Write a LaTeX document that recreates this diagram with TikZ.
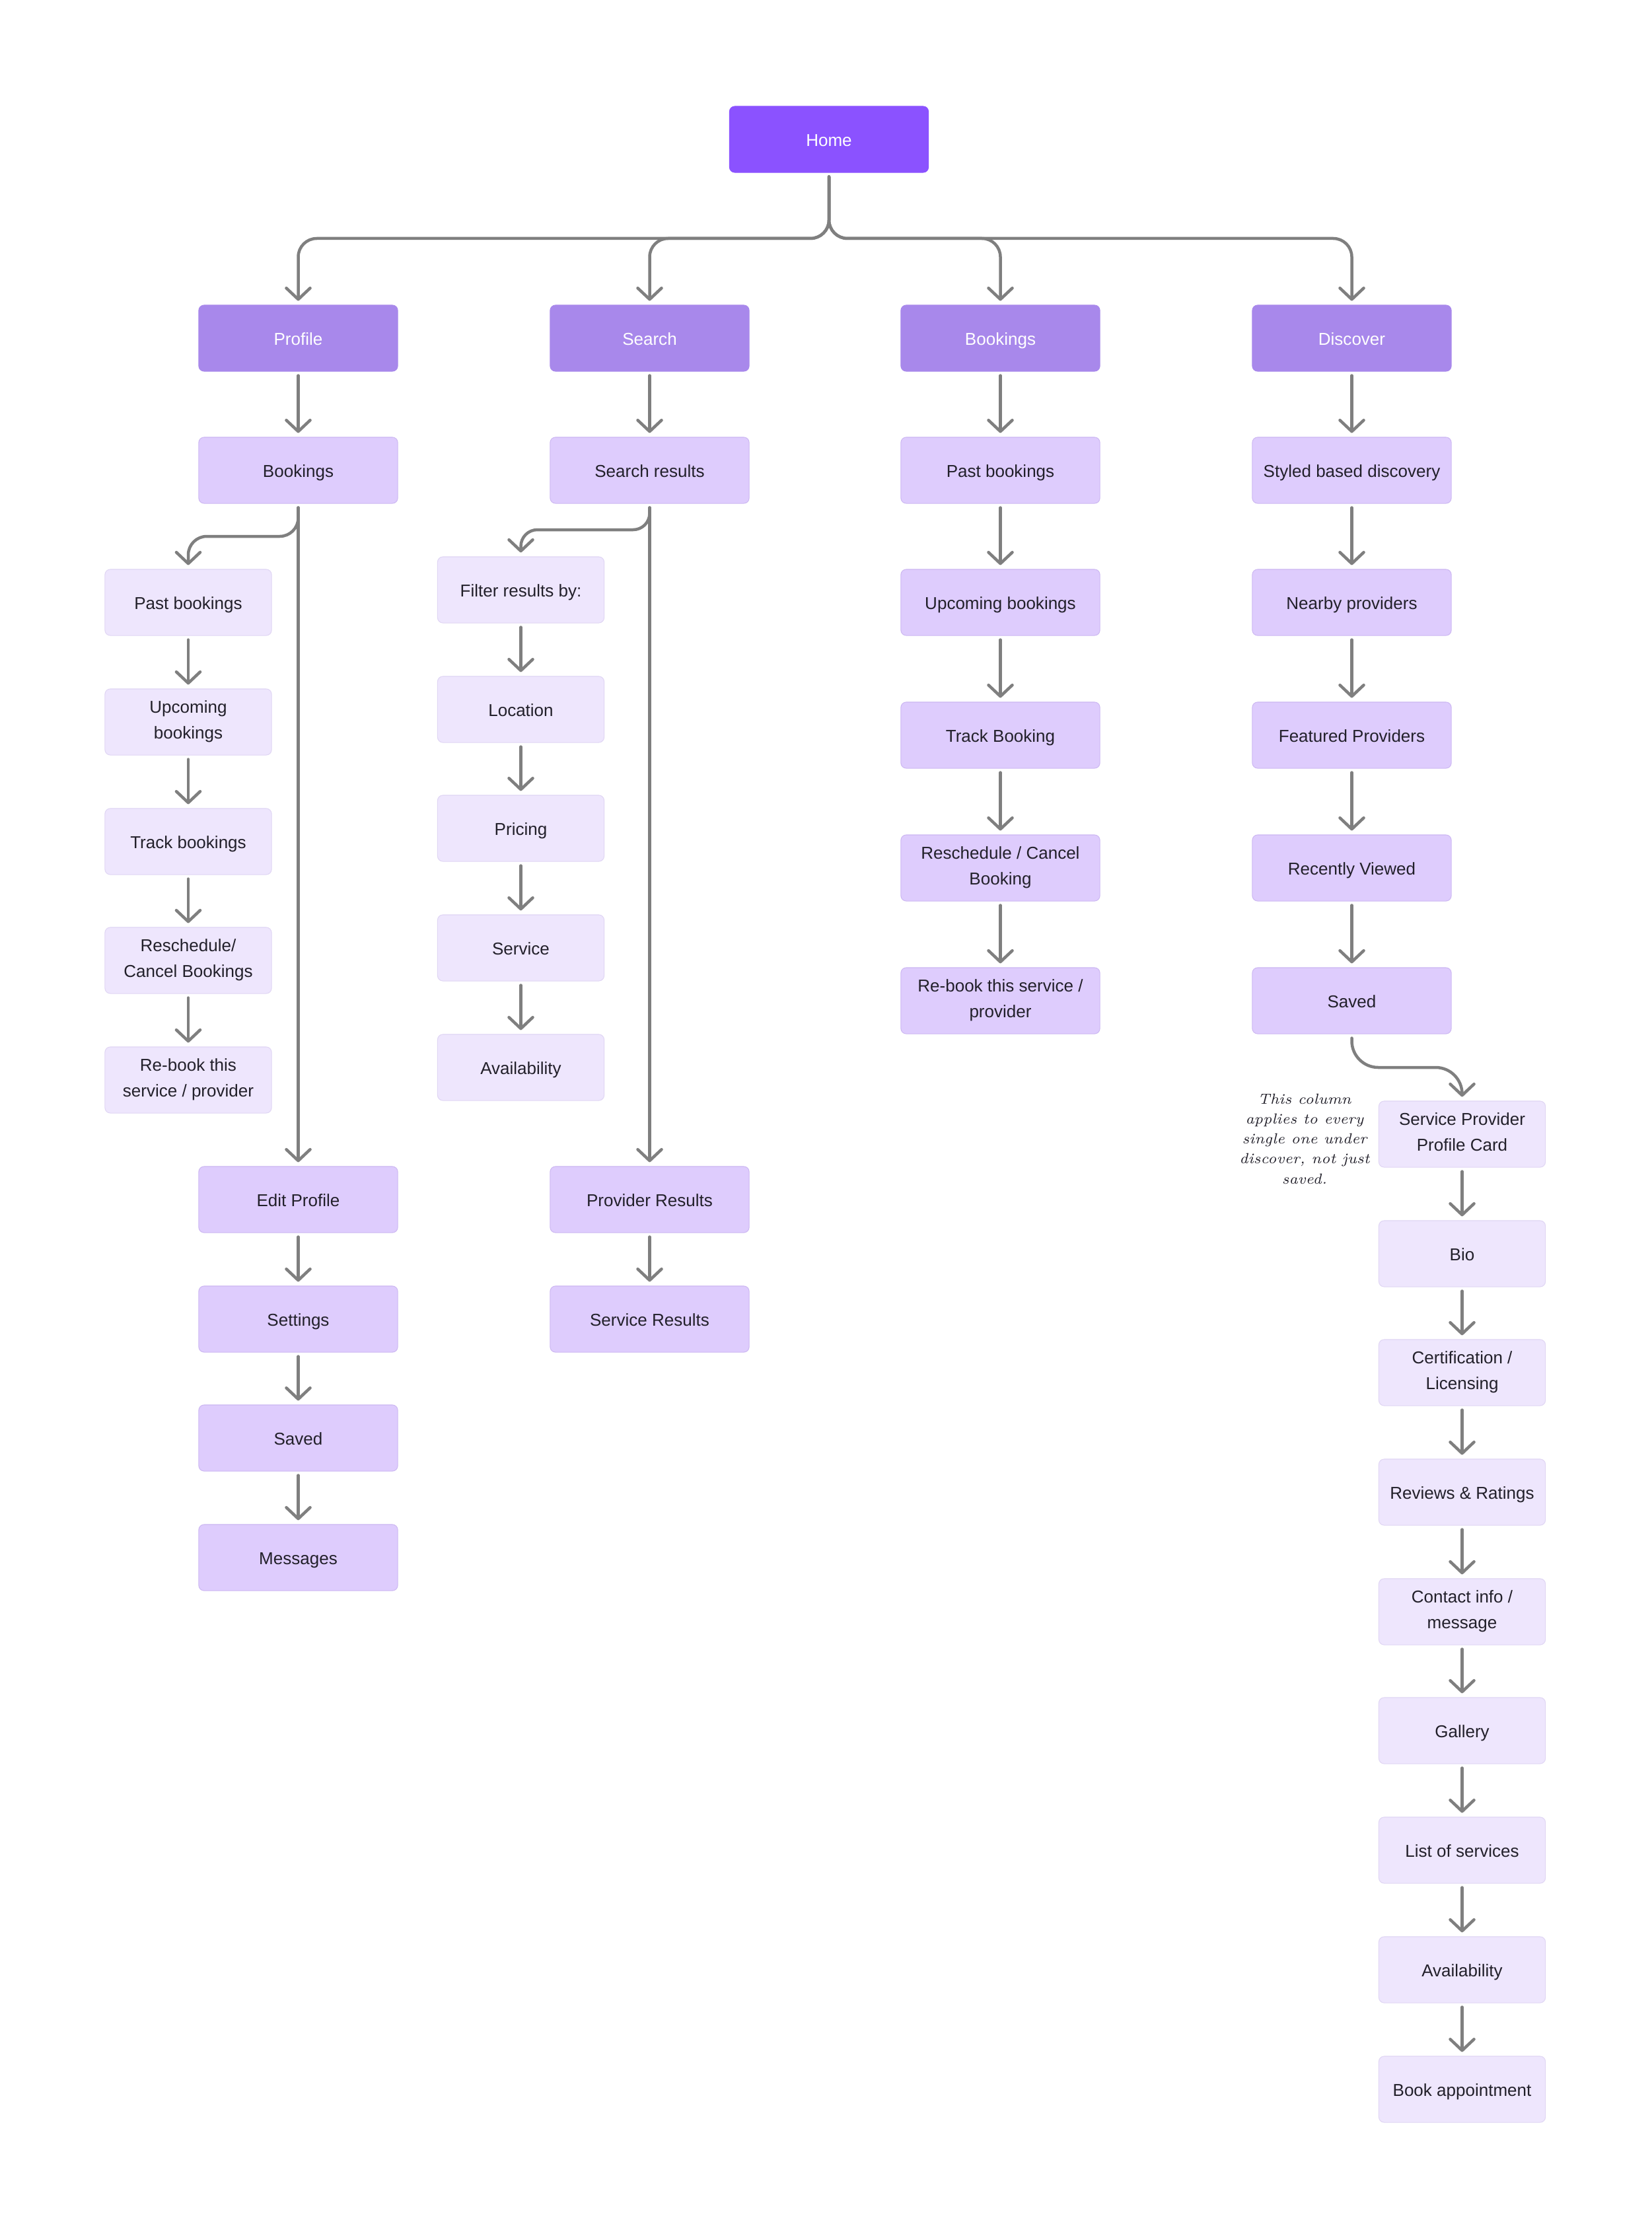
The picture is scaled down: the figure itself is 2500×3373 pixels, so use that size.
\documentclass[tikz,border=0pt]{standalone}
\usepackage{fontspec}
\setmainfont{Liberation Sans}
\newfontfamily\notefont{Latin Modern Roman}
\usetikzlibrary{arrows.meta}
\definecolor{cHome}{HTML}{8B52FF}
\definecolor{cLone}{HTML}{A888EB}
\definecolor{cMed}{HTML}{DECCFD}
\definecolor{cMedB}{HTML}{CDB8F2}
\definecolor{cLite}{HTML}{EEE6FD}
\definecolor{cLiteB}{HTML}{E0D6F4}
\definecolor{cLine}{HTML}{7F7F7F}
\definecolor{cTxt}{HTML}{22202A}
\newcommand\flowlink[2]{\draw[conn] ([yshift=-0.06cm]#1.south) -- ([yshift=0.06cm]#2.north);}
\newcommand\boxstrut{\rule[-2.0pt]{0pt}{10.0pt}}
\begin{document}
\begin{tikzpicture}[x=0.01cm,y=-0.01cm,
  base/.style={rectangle, rounded corners=0.08cm, minimum height=1cm, align=center,
    font=\fontsize{7.4}{11.1}\selectfont, text=cTxt, line width=0.3pt, inner sep=0pt,
    execute at begin node=\boxstrut, execute at end node=\boxstrut},
  wide/.style={base, minimum width=3.01cm},
  narrow/.style={base, minimum width=2.52cm},
  homebox/.style={wide, fill=cHome, draw=cHome, text=white},
  lone/.style={wide, fill=cLone, draw=cLone, text=white},
  med/.style={wide, fill=cMed, draw=cMedB},
  lite/.style={narrow, fill=cLite, draw=cLiteB},
  conn/.style={draw=cLine, line width=0.045cm, line cap=round, line join=round,
    -{Straight Barb[length=0.17cm,width=0.36cm,round]}},
  notestyle/.style={align=center, font=\notefont\itshape\fontsize{6.3}{8.6}\selectfont, text=cTxt}
]
\useasboundingbox[fill=white] (0,0) rectangle (2500,3373);

% top
\node[homebox] (home) at (1255,211) {Home};
\node[lone] (profile) at (451.5,512) {Profile};
\node[lone] (search) at (983.5,512) {Search};
\node[lone] (bookings) at (1514.5,512) {Bookings};
\node[lone] (discover) at (2046.5,512) {Discover};

% column 1
\node[med] (bk1) at (451.5,712) {Bookings};
\node[lite] (pb1) at (285,912) {Past bookings};
\node[lite] (ub1) at (285,1093) {Upcoming\\bookings};
\node[lite] (tb1) at (285,1274) {Track bookings};
\node[lite] (rc1) at (285,1454) {Reschedule/\\Cancel Bookings};
\node[lite] (rb1) at (285,1635) {Re-book this\\service / provider};
\node[med] (edit) at (451.5,1816) {Edit Profile};
\node[med] (sett) at (451.5,1997) {Settings};
\node[med] (sav1) at (451.5,2177) {Saved};
\node[med] (msg) at (451.5,2358) {Messages};

% column 2
\node[med] (sres) at (983.5,712) {Search results};
\node[lite] (filt) at (788.5,893) {Filter results by:};
\node[lite] (loc) at (788.5,1074) {Location};
\node[lite] (pric) at (788.5,1254) {Pricing};
\node[lite] (serv) at (788.5,1435) {Service};
\node[lite] (avl2) at (788.5,1616) {Availability};
\node[med] (pres) at (983.5,1816) {Provider Results};
\node[med] (svres) at (983.5,1997) {Service Results};

% column 3
\node[med] (pb3) at (1514.5,712) {Past bookings};
\node[med] (ub3) at (1514.5,912) {Upcoming bookings};
\node[med] (tb3) at (1514.5,1113) {Track Booking};
\node[med] (rc3) at (1514.5,1314) {Reschedule / Cancel\\Booking};
\node[med] (rb3) at (1514.5,1515) {Re-book this service /\\provider};

% column 4
\node[med] (sty) at (2046.5,712) {Styled based discovery};
\node[med] (near) at (2046.5,912) {Nearby providers};
\node[med] (feat) at (2046.5,1113) {Featured Providers};
\node[med] (rec) at (2046.5,1314) {Recently Viewed};
\node[med] (sav4) at (2046.5,1515) {Saved};

% column 4 sub
\node[lite] (spc) at (2213.5,1717) {Service Provider\\Profile Card};
\node[lite] (bio) at (2213.5,1898) {Bio};
\node[lite] (cert) at (2213.5,2078) {Certification /\\Licensing};
\node[lite] (rev) at (2213.5,2259) {Reviews \& Ratings};
\node[lite] (cont) at (2213.5,2440) {Contact info /\\message};
\node[lite] (gal) at (2213.5,2620) {Gallery};
\node[lite] (list) at (2213.5,2801) {List of services};
\node[lite] (avl4) at (2213.5,2982) {Availability};
\node[lite] (book) at (2213.5,3163) {Book appointment};

% note
\node[notestyle] (note) at (1975,1724) {This column\\applies to every\\single one under\\discover, not just\\saved.};

% helper coordinates
\coordinate (busy) at (0,361);
\coordinate (br1) at (0,812);
\coordinate (br2) at (0,802);
\coordinate (br4) at (0,1616);

% bus from Home
\foreach \t in {profile,search,bookings,discover}{
  \draw[conn, rounded corners=0.28cm] ([yshift=-0.06cm]home.south) -- (home.south |- busy) -- (\t.north |- busy) -- ([yshift=0.06cm]\t.north);
}

% column 1
\flowlink{profile}{bk1}
\draw[conn, rounded corners=0.28cm] ([yshift=-0.06cm]bk1.south) -- (bk1.south |- br1) -- (pb1.north |- br1) -- ([yshift=0.06cm]pb1.north);
\draw[conn] ([yshift=-0.06cm]bk1.south) -- ([yshift=0.06cm]edit.north);
\flowlink{pb1}{ub1}
\flowlink{ub1}{tb1}
\flowlink{tb1}{rc1}
\flowlink{rc1}{rb1}
\flowlink{edit}{sett}
\flowlink{sett}{sav1}
\flowlink{sav1}{msg}

% column 2
\flowlink{search}{sres}
\draw[conn, rounded corners=0.25cm] ([yshift=-0.06cm]sres.south) -- (sres.south |- br2) -- (filt.north |- br2) -- ([yshift=0.06cm]filt.north);
\draw[conn] ([yshift=-0.06cm]sres.south) -- ([yshift=0.06cm]pres.north);
\flowlink{filt}{loc}
\flowlink{loc}{pric}
\flowlink{pric}{serv}
\flowlink{serv}{avl2}
\flowlink{pres}{svres}

% column 3
\flowlink{bookings}{pb3}
\flowlink{pb3}{ub3}
\flowlink{ub3}{tb3}
\flowlink{tb3}{rc3}
\flowlink{rc3}{rb3}

% column 4
\flowlink{discover}{sty}
\flowlink{sty}{near}
\flowlink{near}{feat}
\flowlink{feat}{rec}
\flowlink{rec}{sav4}
\draw[conn, rounded corners=0.4cm] ([yshift=-0.06cm]sav4.south) -- (sav4.south |- br4) -- (spc.north |- br4) -- ([yshift=0.06cm]spc.north);
\flowlink{spc}{bio}
\flowlink{bio}{cert}
\flowlink{cert}{rev}
\flowlink{rev}{cont}
\flowlink{cont}{gal}
\flowlink{gal}{list}
\flowlink{list}{avl4}
\flowlink{avl4}{book}
\end{tikzpicture}
\end{document}
